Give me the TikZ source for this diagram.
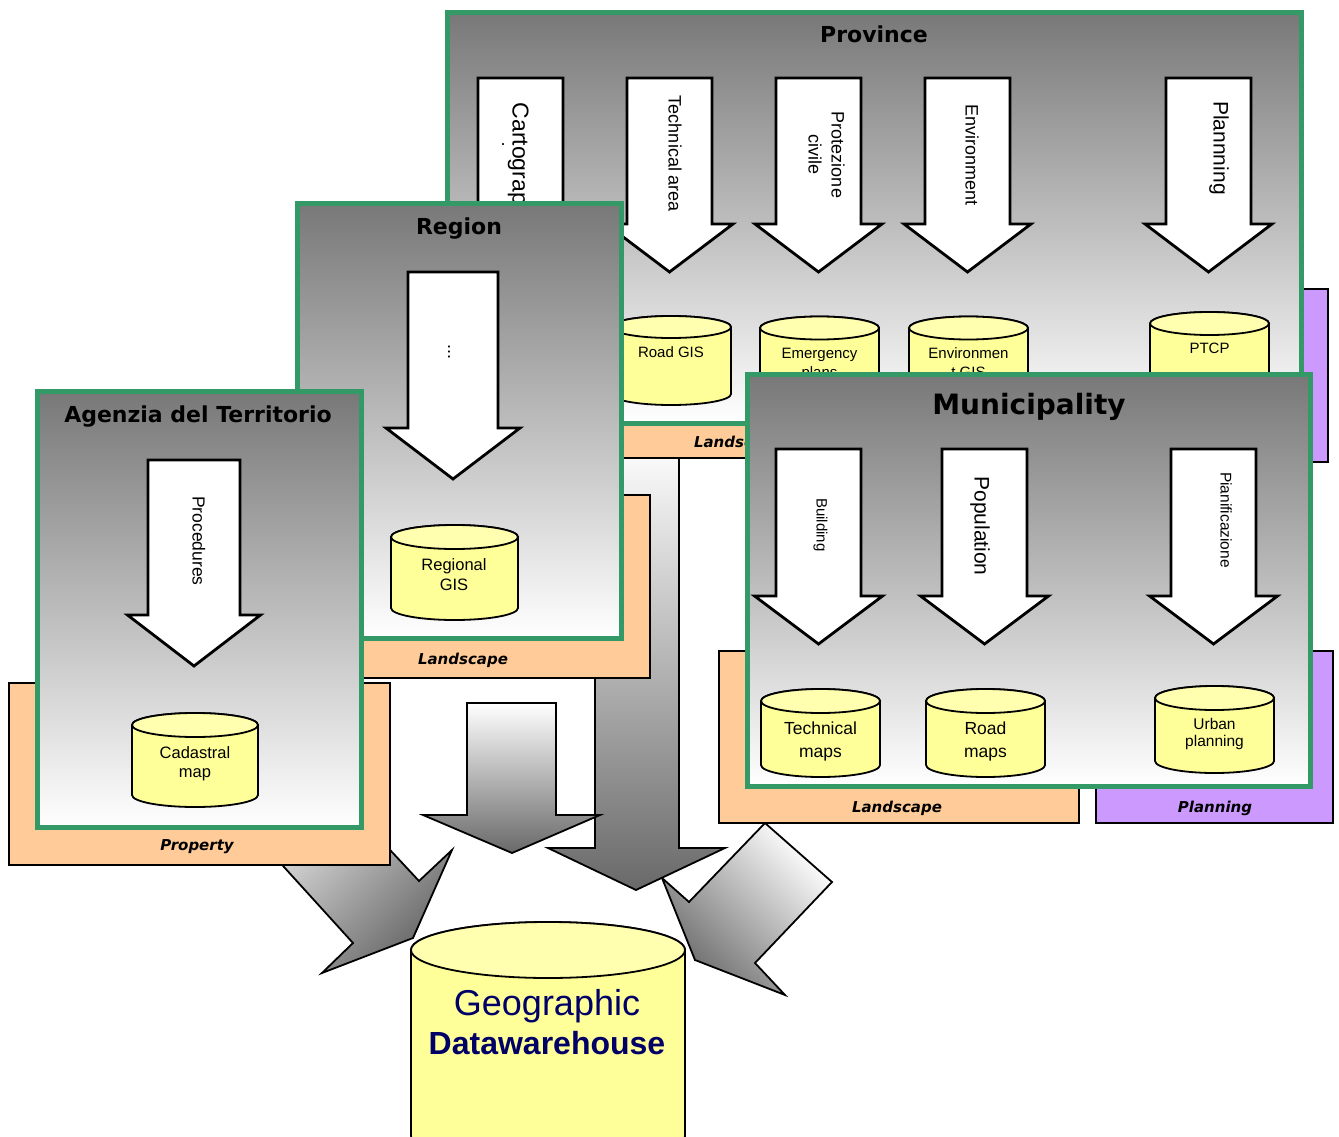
\documentclass[tikz,border=0pt]{standalone}
\usepackage{fontspec}
\setmainfont{Liberation Sans}
\newfontfamily\verd{DejaVu Sans}
\definecolor{pgreen}{RGB}{51,153,102}
\definecolor{panelgray}{RGB}{120,120,120}
\definecolor{porange}{RGB}{255,204,153}
\definecolor{ppurple}{RGB}{204,153,255}
\definecolor{dbyellow}{RGB}{255,255,153}
\definecolor{dbtop}{RGB}{255,255,175}
\definecolor{navyblue}{RGB}{0,0,102}
\definecolor{arrdark}{RGB}{105,105,105}
\newcommand\fsz[1]{\fontsize{#1}{#1}\selectfont}
% cylinder: cx, y of top ellipse centre, y of bottom ellipse centre, rx, ry
\newcommand\dbcyl[5]{%
  \path[dbbody] (#1-#4,#2) -- (#1-#4,#3)
     arc[start angle=180,end angle=0,x radius=#4,y radius=#5]
     -- (#1+#4,#2)
     arc[start angle=0,end angle=-180,x radius=#4,y radius=#5] -- cycle;
  \path[dbbody,fill=dbtop] (#1,#2) ellipse[x radius=#4,y radius=#5];}
% downward block arrow: cx, ytop, yhead, ytip, shaft half width, head half width
\newcommand\varrow[6]{%
  \path[blockarr] (#1-#5,#2) -- (#1+#5,#2) -- (#1+#5,#3) -- (#1+#6,#3)
     -- (#1,#4) -- (#1-#6,#3) -- (#1-#5,#3) -- cycle;}
\begin{document}
\begin{tikzpicture}[x=1pt,y=-1pt,
  panel/.style={draw=pgreen,line width=5pt,top color=panelgray,bottom color=white},
  obox/.style={draw=black,line width=1.6pt,fill=porange},
  pbox/.style={draw=black,line width=1.6pt,fill=ppurple},
  blockarr/.style={draw=black,line width=2.8pt,fill=white,miter limit=4},
  flowarr/.style={draw=black,line width=1.8pt},
  dbbody/.style={draw=black,line width=1.8pt,fill=dbyellow},
  lbl/.style={inner sep=0pt,anchor=base},
  title/.style={lbl,font=\verd\bfseries\fsz{22}},
  boxlbl/.style={lbl,font=\verd\bfseries\itshape\fsz{15}},
  vtext/.style={lbl,rotate=-90}]
\useasboundingbox (0,0) rectangle (1339,1137);
\clip (0,0) rectangle (1339,1137);
\fill[white] (0,0) rectangle (1339,1137);

% ---- flow arrows towards the warehouse
\path[flowarr,top color=white,bottom color=arrdark,shading angle=45]
  (215,791) -- (353,943) -- (322,973) -- (413,938) -- (452,850) -- (419,881) -- (323,778) -- cycle;
\path[flowarr,top color=white,bottom color=arrdark,shading angle=-45]
  (765,823) -- (832,882) -- (755,963) -- (785,995) -- (695,960) -- (662,878) -- (689,902) -- cycle;
\path[flowarr,top color=white,bottom color=arrdark]
  (595,440) -- (679,440) -- (679,848) -- (725,848) -- (636,890) -- (548,848) -- (595,848) -- cycle;
\path[flowarr,top color=white,bottom color=arrdark]
  (467,703) -- (556,703) -- (556,815) -- (600,815) -- (512,853) -- (423,815) -- (467,815) -- cycle;

% ---- warehouse
\dbcyl{548}{950}{1136}{137}{28}
\node[lbl,font=\fsz{36},text=navyblue] (geo) at (547,1015) {Geographic};
\node[lbl,font=\fsz{32}\bfseries,text=navyblue] (dwh) at (547,1054) {Datawarehouse};

% ---- Province
\path[obox] (600,290) rectangle (890,458);
\node[boxlbl] (provland) at (739,447.5) {Landscape};
\path[pbox] (1090,289) rectangle (1328,462);
\path[panel] (447.5,13) rectangle (1301.5,423);
\node[title] (province) at (874,43) {Province};
\varrow{520.5}{78}{224}{272}{42.5}{63.5}
\varrow{669.5}{78}{224}{272}{42.5}{63.5}
\varrow{818.5}{78}{224}{272}{42.5}{63.5}
\varrow{967.5}{78}{224}{272}{42.5}{63.5}
\varrow{1208.5}{78}{224}{272}{42.5}{63.5}
\node[vtext,font=\fsz{23}] (carto) at (512.7,166) {Cartography};
\node[inner sep=0pt,font=\fsz{18}] (cartodot) at (503,145) {.};
\node[vtext,font=\fsz{18}] (techarea) at (668.5,154) {Technical area};
\node[vtext,font=\fsz{18}] (prot1) at (831.5,155) {Protezione};
\node[vtext,font=\fsz{18}] (prot2) at (808.5,155) {civile};
\node[vtext,font=\fsz{18}] (envarr) at (965.5,155) {Environment};
\node[vtext,font=\fsz{21}] (planarr) at (1213.5,148) {Plannning};
\dbcyl{671}{327}{394}{60}{11}
\dbcyl{819.5}{328}{395}{59.5}{11.5}
\dbcyl{968.5}{328}{395}{59.5}{11.5}
\dbcyl{1209.5}{323.5}{392}{59.5}{11.5}
\node[lbl,font=\fsz{15}] (roadgis) at (671,357.5) {Road GIS};
\node[lbl,font=\fsz{15}] (emerg1) at (819.5,358.5) {Emergency};
\node[lbl,font=\fsz{15}] (emerg2) at (819.5,377.5) {plans};
\node[lbl,font=\fsz{15}] (envgis1) at (968.5,358.5) {Environmen};
\node[lbl,font=\fsz{15}] (envgis2) at (968.5,377.5) {t GIS};
\node[lbl,font=\fsz{15}] (ptcp) at (1209.5,353.5) {PTCP};

% ---- Region
\path[obox] (276,495) rectangle (650,678);
\node[boxlbl] (regland) at (463,664.5) {Landscape};
\path[panel] (297.5,203.5) rectangle (621,638);
\node[title] (region) at (459,234) {Region};
\varrow{453}{272}{428}{479}{45}{67}
\node[vtext,font=\fsz{18}] (regdots) at (448,352) {...};
\dbcyl{454.5}{537}{608}{63.5}{12}
\node[lbl,font=\fsz{16.5}] (reggis1) at (454,570) {Regional};
\node[lbl,font=\fsz{16.5}] (reggis2) at (454,590) {GIS};

% ---- Agenzia del Territorio
\path[obox] (9,683) rectangle (390,865);
\node[boxlbl] (property) at (197,850.5) {Property};
\path[panel] (37.5,391) rectangle (361.5,827);
\node[title] (agenzia) at (198,422) {Agenzia del Territorio};
\varrow{194}{460}{615}{666}{46}{66.5}
\node[vtext,font=\fsz{17.5}] (procedures) at (192.7,541) {Procedures};
\dbcyl{195}{725}{795}{63}{12}
\node[lbl,font=\fsz{16.5}] (cad1) at (195,758) {Cadastral};
\node[lbl,font=\fsz{16.5}] (cad2) at (195,777) {map};

% ---- Municipality
\path[obox] (719,651) rectangle (1079,823);
\node[boxlbl] (munland) at (897,812.5) {Landscape};
\path[pbox] (1096,651) rectangle (1333,823);
\node[boxlbl] (munplan) at (1215,812.5) {Planning};
\path[panel] (747.5,374.5) rectangle (1310,786);
\node[lbl,font=\verd\bfseries\fsz{28}] (municipality) at (1029,414) {Municipality};
\varrow{818.5}{449}{596}{644}{42.5}{64}
\varrow{984.5}{449}{596}{644}{42.5}{64}
\varrow{1213.5}{449}{596}{644}{42.5}{64}
\node[vtext,font=\fsz{15}] (building) at (816.6,525) {Building};
\node[vtext,font=\fsz{21}] (population) at (974.5,526) {Population};
\node[vtext,font=\fsz{15.5}] (pianif) at (1220.5,520) {Pianificazione};
\dbcyl{820.5}{701}{765}{59.5}{12}
\dbcyl{985.5}{701}{765}{59.5}{12}
\dbcyl{1214.5}{698}{761}{59.5}{12}
\node[lbl,font=\fsz{17.5}] (techmaps1) at (820.5,734) {Technical};
\node[lbl,font=\fsz{17.5}] (techmaps2) at (820.5,757) {maps};
\node[lbl,font=\fsz{17.5}] (roadmaps1) at (985.5,734) {Road};
\node[lbl,font=\fsz{17.5}] (roadmaps2) at (985.5,757) {maps};
\node[lbl,font=\fsz{15.5}] (urban1) at (1214.5,729) {Urban};
\node[lbl,font=\fsz{15.5}] (urban2) at (1214.5,746) {planning};
\end{tikzpicture}
\end{document}
